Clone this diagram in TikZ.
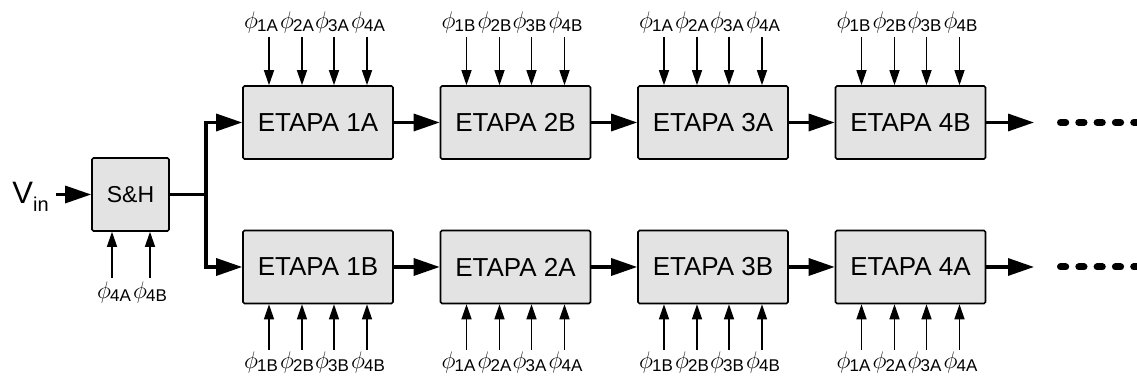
\documentclass[tikz,border=0pt]{standalone}
\usepackage{fontspec}
\setmainfont{Liberation Sans}
\usetikzlibrary{arrows.meta}

% clock phase label: phi with a sans-serif subscript
\newcommand\clk[1]{$\phi$\kern-0.4pt{\fontsize{8.5}{8.5}\selectfont\raisebox{-0.3ex}{#1}}}

% four clock inputs entering a stage from above
\newcommand\topclocks[2]{%
  \foreach \i/\dx/\lo in {1/-49/-8,2/-16/-5,3/16/-2,4/49/1}{
    \path (#1.north) ++(\dx,0) coordinate (#1e\i);
    \coordinate (#1s\i) at (#1e\i |- 0,37);
    \path (#1s\i |- 0,29) ++(\lo,0) node[clklabel] (#1l\i) {\clk{\i#2}};
    \draw[clkarrow] (#1s\i) -- (#1e\i);
  }}

% four clock inputs entering a stage from below
\newcommand\bottomclocks[2]{%
  \foreach \i/\dx/\lo in {1/-49/-8,2/-16/-5,3/16/-2,4/49/1}{
    \path (#1.south) ++(\dx,0) coordinate (#1e\i);
    \coordinate (#1s\i) at (#1e\i |- 0,350);
    \path (#1s\i |- 0,369) ++(\lo,0) node[clklabel] (#1l\i) {\clk{\i#2}};
    \draw[clkarrow] (#1s\i) -- (#1e\i);
  }}

\begin{document}
\begin{tikzpicture}[x=0.5pt,y=-0.5pt,
  stage/.style={draw=black, line width=0.8pt, fill=gray!22,
    minimum width=75pt, minimum height=36.5pt, inner sep=0pt,
    rounded corners=0.8pt, font=\fontsize{13}{15}\selectfont},
  bus/.style={line width=1.6pt},
  busarrow/.style={bus, -{Triangle[length=13pt,width=8.5pt]}},
  clkarrow/.style={line width=0.7pt, -{Triangle[length=7.5pt,width=5pt]}},
  clklabel/.style={inner sep=0pt, anchor=base, font=\fontsize{11.5}{12}\selectfont},
  dots/.style={line width=3.5pt, line cap=round, dash pattern=on 2.6pt off 6.55pt}
]
\useasboundingbox (0,0) rectangle (1137,383);

% input and sample-and-hold
\node[anchor=base west, inner sep=0pt] (vin) at (12,204)
  {\fontsize{15.5}{15}\selectfont V\raisebox{-0.45ex}{\fontsize{10}{10}\selectfont in}};
\node[stage, minimum width=38.5pt, font=\fontsize{11.5}{13}\selectfont] (sh) at (130.5,194.5) {S\&H};

% pipeline stages
\node[stage] (t1) at (318,122.5) {ETAPA 1A};
\node[stage] (t2) at (515.5,122.5) {ETAPA 2B};
\node[stage] (t3) at (713,122.5) {ETAPA 3A};
\node[stage] (t4) at (910.5,122.5) {ETAPA 4B};
\node[stage] (b1) at (318,267) {ETAPA 1B};
\node[stage] (b2) at (515.5,267) {ETAPA 2A};
\node[stage] (b3) at (713,267) {ETAPA 3B};
\node[stage] (b4) at (910.5,267) {ETAPA 4A};

% signal path
\coordinate (vinout) at (56,0 |- sh.west);
\draw[busarrow] (vinout) -- (sh.west);
\coordinate (split) at (206,0 |- sh.east);
\draw[bus] (sh.east) -- (split);
\draw[busarrow] (split) |- (t1.west);
\draw[busarrow] (split) |- (b1.west);
\draw[busarrow] (t1.east) -- (t2.west);
\draw[busarrow] (t2.east) -- (t3.west);
\draw[busarrow] (t3.east) -- (t4.west);
\draw[busarrow] (b1.east) -- (b2.west);
\draw[busarrow] (b2.east) -- (b3.west);
\draw[busarrow] (b3.east) -- (b4.west);

% outputs continuing to further stages
\coordinate (tout) at (1034,0 |- t4.east);
\coordinate (bout) at (1034,0 |- b4.east);
\draw[busarrow] (t4.east) -- (tout);
\draw[busarrow] (b4.east) -- (bout);
\coordinate (tdots) at (1060.5,0 |- t4.east);
\coordinate (tdotsend) at (1150,0 |- t4.east);
\coordinate (bdots) at (1060.5,0 |- b4.east);
\coordinate (bdotsend) at (1150,0 |- b4.east);
\draw[dots] (tdots) -- (tdotsend);
\draw[dots] (bdots) -- (bdotsend);

% clock phases
\topclocks{t1}{A}
\topclocks{t2}{B}
\topclocks{t3}{A}
\topclocks{t4}{B}
\bottomclocks{b1}{B}
\bottomclocks{b2}{A}
\bottomclocks{b3}{B}
\bottomclocks{b4}{A}

% sample-and-hold clocks
\coordinate (shs1) at (112,278);
\coordinate (shs2) at (150,278);
\draw[clkarrow] (shs1) -- (shs1 |- sh.south);
\draw[clkarrow] (shs2) -- (shs2 |- sh.south);
\node[clklabel] (shl1) at (114,299) {\clk{4A}};
\node[clklabel] (shl2) at (150,299) {\clk{4B}};
\end{tikzpicture}
\end{document}
